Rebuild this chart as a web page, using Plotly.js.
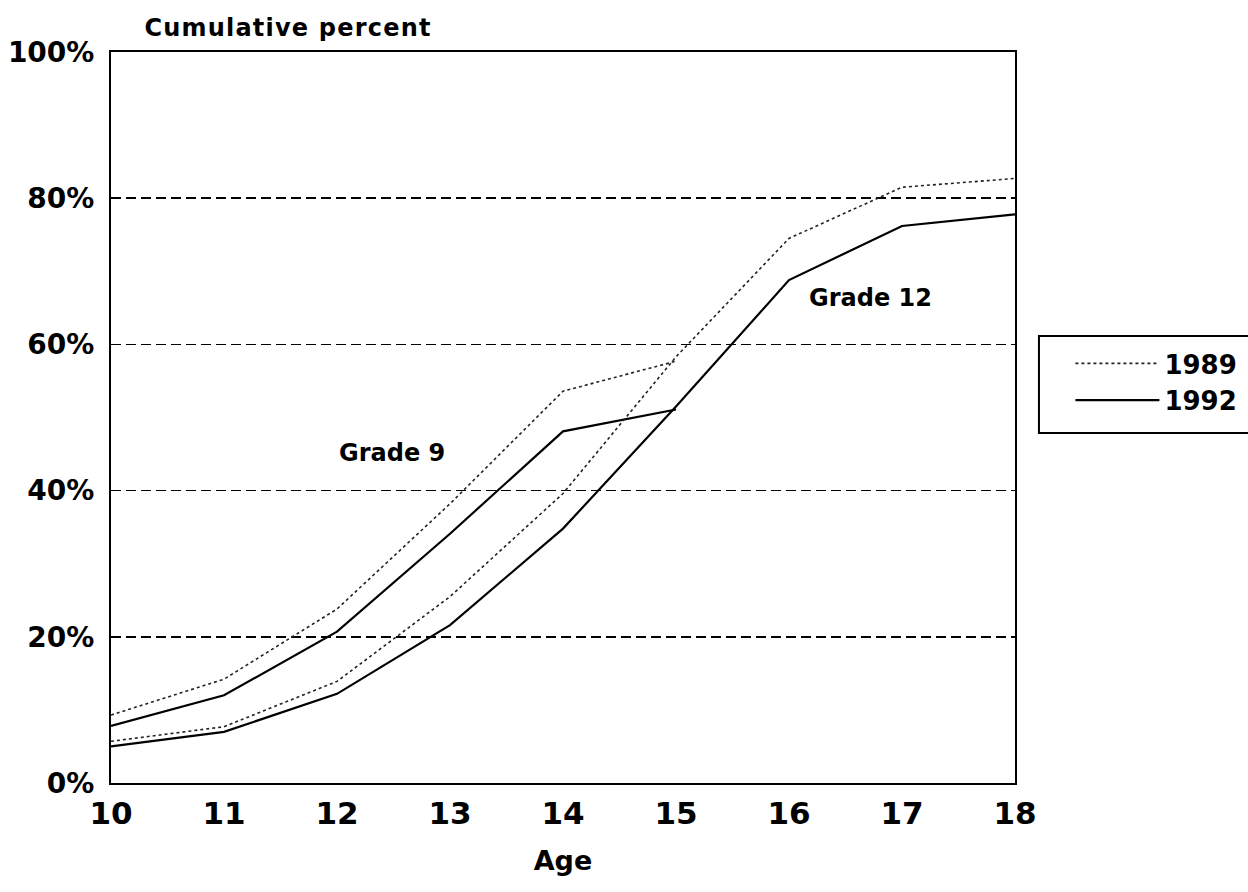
<!DOCTYPE html>
<html>
<head>
<meta charset="utf-8">
<script src="https://cdn.plot.ly/plotly-3.0.1.min.js"></script>
<style>
html,body{margin:0;padding:0;background:#fff;}
#chart{width:1248px;height:892px;}
</style>
</head>
<body>
<div id="chart"></div>
<script>
// Ages
const ages9 = [10, 11, 12, 13, 14, 15];
const ages12 = [10, 11, 12, 13, 14, 15, 16, 17, 18];
// Grade 9 cumulative percent
const grade9_1989 = [9.3, 14.2, 23.8, 38.2, 53.6, 57.7];
const grade9_1992 = [7.8, 12.0, 20.7, 34.1, 48.1, 51.1];
// Grade 12 cumulative percent
const grade12_1989 = [5.7, 7.7, 13.9, 25.5, 39.6, 58.3, 74.5, 81.5, 82.7];
const grade12_1992 = [5.0, 7.0, 12.2, 21.6, 34.8, 51.5, 68.8, 76.2, 77.8];
// Axis ticks
const yTickVals = [0, 20, 40, 60, 80, 100];
const yTickText = ['0%', '20%', '40%', '60%', '80%', '100%'];
const xTickVals = [10, 11, 12, 13, 14, 15, 16, 17, 18];
// Labels
const seriesNames = ['1989', '1992'];
const gradeLabels = [
  {text: 'Grade 9', x: 12.49, y: 45.1},
  {text: 'Grade 12', x: 16.72, y: 66.3}
];

const FONT = 'DejaVu Sans, sans-serif';
const dotStyle = {color: '#222', width: 1.6, dash: 'dot'};
const solidStyle = {color: '#000', width: 2.2, dash: 'solid'};

const traces = [
  {x: ages9, y: grade9_1989, mode: 'lines', line: dotStyle, name: seriesNames[0], showlegend: true, legendgroup: 'a'},
  {x: ages9, y: grade9_1992, mode: 'lines', line: solidStyle, name: seriesNames[1], showlegend: true, legendgroup: 'b'},
  {x: ages12, y: grade12_1989, mode: 'lines', line: dotStyle, name: seriesNames[0], showlegend: false, legendgroup: 'a'},
  {x: ages12, y: grade12_1992, mode: 'lines', line: solidStyle, name: seriesNames[1], showlegend: false, legendgroup: 'b'}
];

const layout = {
  width: 1248, height: 892,
  paper_bgcolor: '#fff', plot_bgcolor: '#fff',
  margin: {l: 111, r: 233, t: 52, b: 109, pad: 0, autoexpand: false},
  font: {family: FONT, color: '#000'},
  title: {
    text: '<b><span style="letter-spacing:1.2px">Cumulative percent</span></b>',
    font: {family: FONT, size: 24, color: '#000'},
    xref: 'paper', x: 0.037, xanchor: 'left',
    yref: 'container', y: 0.969, yanchor: 'middle'
  },
  xaxis: {
    range: [10, 18],
    tickvals: xTickVals,
    ticks: '',
    showgrid: false,
    zeroline: false,
    showline: true, linecolor: '#000', linewidth: 2, mirror: true,
    tickfont: {family: FONT, size: 31, color: '#000', weight: 'bold'},
    ticklabelstandoff: 2,
    title: {text: '<b>Age</b>', font: {family: FONT, size: 27, color: '#000'}, standoff: 21}
  },
  yaxis: {
    range: [0, 100],
    tickvals: yTickVals,
    ticktext: yTickText,
    ticks: '',
    showgrid: true, gridcolor: '#000', gridwidth: 1.5, griddash: '10px,5px',
    zeroline: false,
    showline: true, linecolor: '#000', linewidth: 2, mirror: true,
    tickfont: {family: FONT, size: 28, color: '#000', weight: 'bold'},
    ticklabelstandoff: 9
  },
  legend: {
    x: 1.0613, xanchor: 'left', y: 0.606, yanchor: 'top',
    borderwidth: 0, bgcolor: 'rgba(0,0,0,0)',
    font: {family: FONT, size: 26, color: '#000', weight: 'bold'},
    itemwidth: 84,
    tracegroupgap: 0
  },
  showlegend: true,
  shapes: [{
    type: 'rect', xref: 'paper', yref: 'paper',
    x0: 1.0265, x1: 1.3, y0: 0.4788, y1: 0.6115,
    line: {color: '#000', width: 2}, fillcolor: 'rgba(0,0,0,0)', layer: 'above'
  }],
  annotations: gradeLabels.map(g => ({
    x: g.x, y: g.y, xref: 'x', yref: 'y', text: '<b>' + g.text + '</b>',
    showarrow: false, font: {family: FONT, size: 24, color: '#000'},
    xanchor: 'center', yanchor: 'middle'
  }))
};

Plotly.newPlot('chart', traces, layout, {displayModeBar: false, staticPlot: true});
</script>
</body>
</html>
